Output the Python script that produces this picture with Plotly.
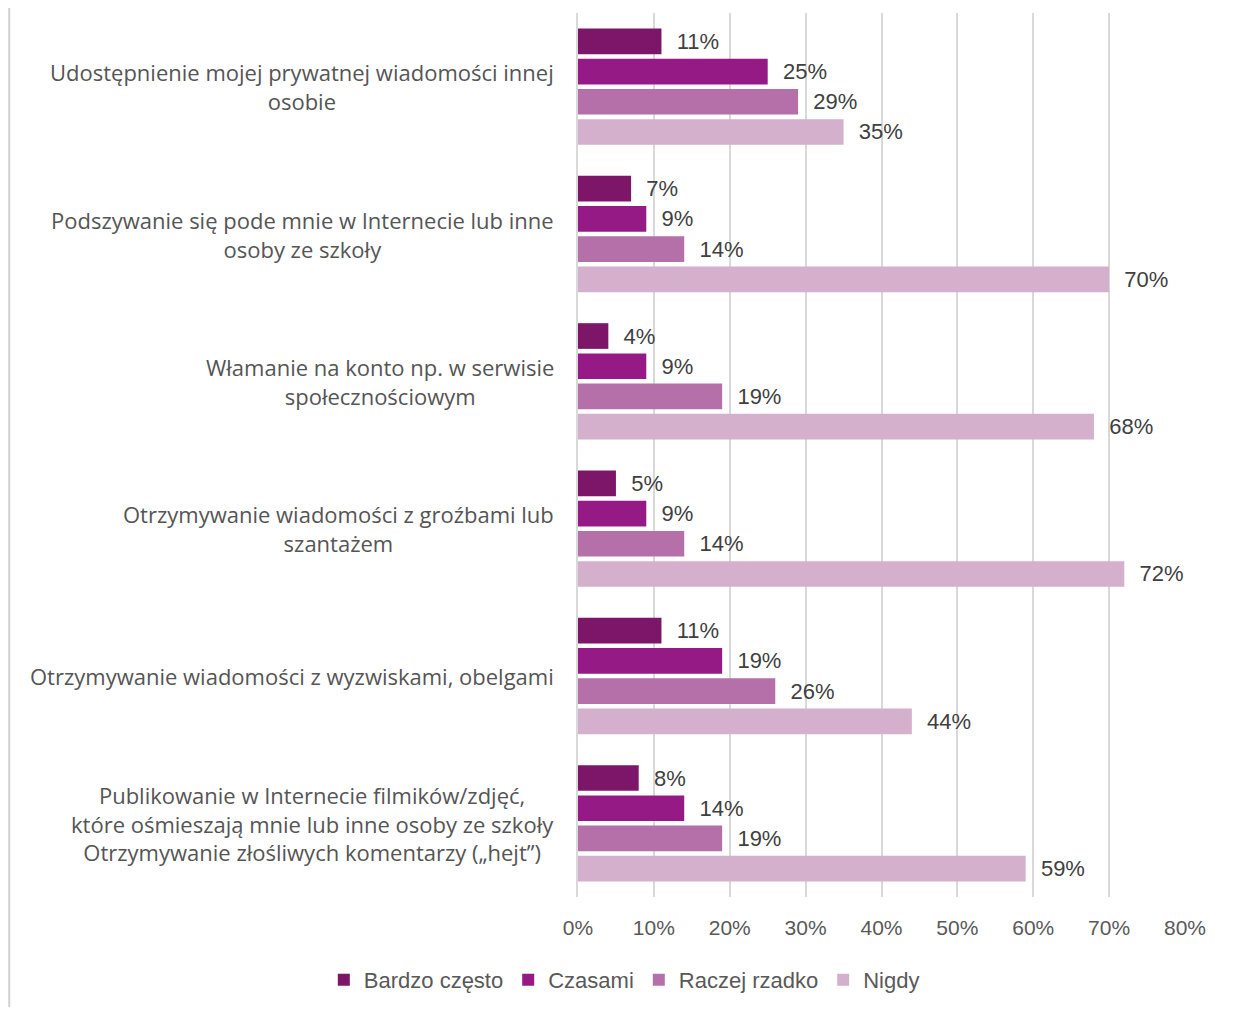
import plotly.graph_objects as go

categories = [
    "Udostępnienie mojej prywatnej wiadomości innej<br>osobie",
    "Podszywanie się pode mnie w Internecie lub inne<br>osoby ze szkoły",
    "Włamanie na konto np. w serwisie<br>społecznościowym",
    "Otrzymywanie wiadomości z groźbami lub<br>szantażem",
    "Otrzymywanie wiadomości z wyzwiskami, obelgami",
    "Publikowanie w Internecie filmików/zdjęć,<br>które ośmieszają mnie lub inne osoby ze szkoły<br>Otrzymywanie złośliwych komentarzy („hejt”)",
]
series_names = ["Bardzo często", "Czasami", "Raczej rzadko", "Nigdy"]
bardzo_czesto = [0.11, 0.07, 0.04, 0.05, 0.11, 0.08]
czasami = [0.25, 0.09, 0.09, 0.09, 0.19, 0.14]
raczej_rzadko = [0.29, 0.14, 0.19, 0.14, 0.26, 0.19]
nigdy = [0.35, 0.70, 0.68, 0.72, 0.44, 0.59]
series_values = [bardzo_czesto, czasami, raczej_rzadko, nigdy]
colors = ["#7D1668", "#951A86", "#B570AA", "#D5B0CC"]
tick_vals = [0, 0.1, 0.2, 0.3, 0.4, 0.5, 0.6, 0.7, 0.8]

keys = [f"c{i}" for i in range(len(categories))]

fig = go.Figure()
for name, vals, col in zip(series_names, series_values, colors):
    fig.add_trace(go.Bar(
        y=keys, x=vals, name=name, orientation="h",
        marker=dict(color=col, line=dict(width=0)),
        text=[f"  {round(v*100)}%" for v in vals],
        textposition="outside",
        textfont=dict(family="Liberation Sans, Arial, sans-serif", size=22, color="#404040"),
        cliponaxis=False,
        hoverinfo="x+name",
    ))

for k, c in zip(keys, categories):
    fig.add_annotation(
        x=0, xref="x", y=k, yref="y", text=c, showarrow=False,
        xanchor="right", xshift=-22, align="center",
        font=dict(family="Open Sans, Liberation Sans, sans-serif", size=22, color="#555555"),
    )

fig.add_shape(type="line", xref="paper", yref="paper", x0=-0.937, x1=-0.937, y0=-0.13, y1=1.02,
              line=dict(color="#D0D0D0", width=2))

fig.update_layout(
    width=1218, height=999,
    margin=dict(l=570, r=41, t=5, b=110),
    plot_bgcolor="white", paper_bgcolor="white",
    barmode="group", bargap=0.18, bargroupgap=0.15,
    showlegend=True,
    legend=dict(orientation="h", xref="container", x=0.506, xanchor="center",
                yref="container", y=0.027, yanchor="middle",
                font=dict(family="Liberation Sans, Arial, sans-serif", size=22, color="#595959"),
                traceorder="normal"),
    xaxis=dict(range=[0, 0.8], tickvals=tick_vals, tickformat=".0%",
               showgrid=True, gridcolor="#D9D9D9", gridwidth=1.5, zeroline=False,
               showline=False, ticks="", ticklabelstandoff=16,
               tickfont=dict(family="Liberation Sans, Arial, sans-serif", size=21, color="#595959")),
    yaxis=dict(autorange="reversed", showticklabels=False, showgrid=False,
               showline=True, linecolor="#D9D9D9", linewidth=1.5, ticks=""),
)
fig.write_html("out.html")
